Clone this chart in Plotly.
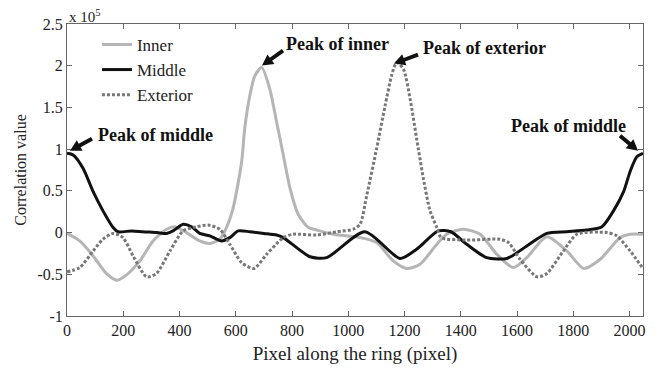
import math
import plotly.graph_objects as go

# Data (correlation values in units of 1e5)
middle_x = [0, 22, 57, 93, 128, 164, 181, 230, 270, 320, 354, 377, 413, 443, 472, 508, 549, 579, 609, 650, 700, 745, 769, 864, 923, 1059, 1184, 1243, 1320, 1365, 1421, 1492, 1564, 1635, 1706, 1777, 1848, 1902, 1943, 1979, 2002, 2026, 2048]
middle_y = [0.95, 0.93, 0.77, 0.49, 0.26, 0.06, 0.01, 0.02, 0.01, 0.0, -0.01, 0.02, 0.10, 0.07, -0.01, -0.04, -0.10, -0.06, 0.02, 0.01, -0.01, -0.03, -0.06, -0.29, -0.30, 0.01, -0.31, -0.20, 0.02, 0.01, -0.14, -0.30, -0.31, -0.16, -0.01, 0.01, 0.03, 0.07, 0.26, 0.49, 0.73, 0.91, 0.95]

inner_x = [0, 45, 93, 140, 176, 211, 259, 306, 354, 383, 425, 472, 508, 543, 567, 591, 621, 632, 650, 668, 692, 721, 745, 769, 793, 822, 858, 888, 947, 1042, 1101, 1160, 1208, 1255, 1315, 1350, 1409, 1469, 1528, 1587, 1635, 1706, 1777, 1837, 1896, 1967, 2002, 2048]
inner_y = [-0.01, -0.10, -0.28, -0.49, -0.57, -0.51, -0.34, -0.10, 0.04, 0.07, 0.0, -0.10, -0.13, -0.08, 0.06, 0.30, 0.85, 1.25, 1.64, 1.88, 1.98, 1.72, 1.33, 0.93, 0.53, 0.22, 0.06, 0.03, -0.02, -0.06, -0.12, -0.34, -0.43, -0.38, -0.14, -0.02, 0.04, -0.02, -0.26, -0.42, -0.30, -0.05, -0.22, -0.43, -0.32, -0.06, -0.02, -0.02]

exterior_x = [0, 45, 93, 128, 164, 199, 235, 283, 318, 366, 413, 461, 502, 543, 579, 621, 665, 710, 769, 804, 888, 959, 1018, 1042, 1066, 1101, 1131, 1154, 1172, 1196, 1220, 1243, 1267, 1291, 1315, 1330, 1421, 1540, 1570, 1611, 1671, 1706, 1765, 1813, 1920, 1955, 2002, 2048]
exterior_y = [-0.47, -0.42, -0.22, -0.08, -0.01, -0.06, -0.28, -0.53, -0.49, -0.22, 0.02, 0.07, 0.09, 0.04, -0.14, -0.36, -0.43, -0.26, -0.06, -0.02, -0.03, 0.01, 0.04, 0.10, 0.45, 1.01, 1.52, 1.88, 2.04, 1.96, 1.60, 1.13, 0.65, 0.26, 0.06, -0.06, -0.09, -0.08, -0.12, -0.32, -0.53, -0.49, -0.22, -0.02, 0.0, -0.04, -0.22, -0.43]

x_ticks = [0, 200, 400, 600, 800, 1000, 1200, 1400, 1600, 1800, 2000]
y_ticks = [-1, -0.5, 0, 0.5, 1, 1.5, 2, 2.5]
y_tick_text = ["-1", "-0.5", "0", "0.5", "1", "1.5", "2", "2.5"]

FONT = "Liberation Serif, Times New Roman, serif"
L, R, T, B = 67, 19, 24, 54
W, H = 662, 373
PW, PH = W - L - R, H - T - B


def px2paper(px, py):
    return (px - L) / PW, (H - B - py) / PH


def arrow_path(tail, tip, shaft=2.0, head_len=11.0, head_half=6.0):
    dx, dy = tip[0] - tail[0], tip[1] - tail[1]
    n = math.hypot(dx, dy)
    ux, uy = dx / n, dy / n
    nx, ny = -uy, ux
    bx, by = tip[0] - ux * head_len, tip[1] - uy * head_len
    pts = [
        (tail[0] + nx * shaft, tail[1] + ny * shaft),
        (bx + nx * shaft, by + ny * shaft),
        (bx + nx * head_half, by + ny * head_half),
        tip,
        (bx - nx * head_half, by - ny * head_half),
        (bx - nx * shaft, by - ny * shaft),
        (tail[0] - nx * shaft, tail[1] - ny * shaft),
    ]
    pp = [px2paper(*p) for p in pts]
    return "M " + " L ".join(f"{x:.5f},{y:.5f}" for x, y in pp) + " Z"


fig = go.Figure()
fig.add_trace(go.Scatter(x=inner_x, y=inner_y, name="Inner", mode="lines",
                         line=dict(color="#b5b5b5", width=3, shape="spline", smoothing=0.7)))
fig.add_trace(go.Scatter(x=middle_x, y=middle_y, name="Middle", mode="lines",
                         line=dict(color="#111111", width=3, shape="spline", smoothing=0.7)))
fig.add_trace(go.Scatter(x=exterior_x, y=exterior_y, name="Exterior", mode="lines",
                         line=dict(color="#777777", width=3, dash="3px,2px", shape="spline", smoothing=0.7)))

axis_common = dict(showline=True, linecolor="#666666", linewidth=1, mirror="allticks",
                   ticks="inside", ticklen=5, tickcolor="#666666", showgrid=False, zeroline=False,
                   tickfont=dict(family=FONT, size=16, color="#222222"))

fig.update_xaxes(range=[0, 2048], tickvals=x_ticks, ticktext=[str(v) for v in x_ticks],
                 title=dict(text="Pixel along the ring (pixel)", font=dict(family=FONT, size=19, color="#222222"), standoff=8),
                 **axis_common)
fig.update_yaxes(range=[-1, 2.5], tickvals=y_ticks, ticktext=y_tick_text,
                 title=dict(text="Correlation value", font=dict(family=FONT, size=16, color="#222222"), standoff=6),
                 **axis_common)

ann_font = dict(family=FONT, size=18, color="#111111")
# (label, text left px, text centre y px, arrow tail px, arrow tip px)
annots = [
    ("Peak of middle", 96, 136, (92, 140), (70, 152)),
    ("Peak of inner", 284, 44, (283, 51), (262, 66)),
    ("Peak of exterior", 421, 48, (418, 55), (394, 64)),
    ("Peak of middle", 509, 127, (620, 137), (638, 152)),
]
shapes = []
for text, tx, ty, tail, tip in annots:
    xp, yp = px2paper(tx, ty)
    fig.add_annotation(xref="paper", yref="paper", x=xp, y=yp,
                       xanchor="left", yanchor="middle", text="<b>" + text + "</b>",
                       showarrow=False, font=ann_font)
    shapes.append(dict(type="path", xref="paper", yref="paper", path=arrow_path(tail, tip),
                       fillcolor="#111111", line=dict(width=0), layer="above"))

xp, yp = px2paper(67, 16)
fig.add_annotation(xref="paper", yref="paper", x=xp, y=yp, xanchor="left", yanchor="middle",
                   text="x 10<sup>5</sup>", showarrow=False, font=dict(family=FONT, size=15, color="#222222"))

fig.update_layout(
    width=W, height=H,
    margin=dict(l=L, r=R, t=T, b=B),
    paper_bgcolor="white", plot_bgcolor="white",
    shapes=shapes,
    showlegend=True,
    legend=dict(x=0.052, y=0.99, xanchor="left", yanchor="top", bgcolor="rgba(0,0,0,0)",
                font=dict(family=FONT, size=17, color="#222222"), itemwidth=30),
)

fig.write_html("out.html")
